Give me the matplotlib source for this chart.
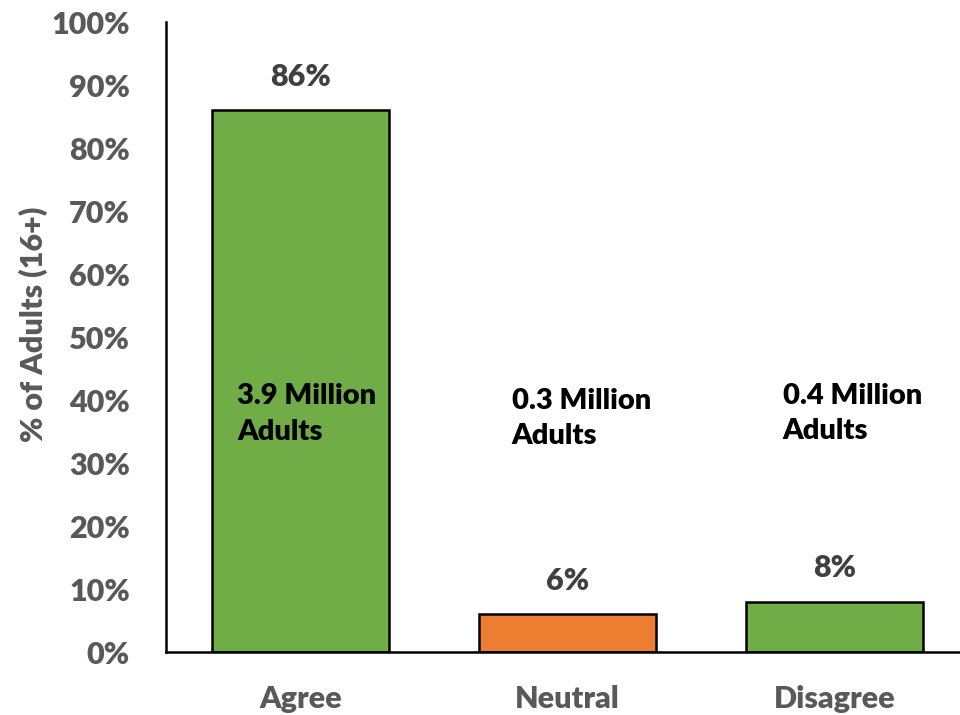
import matplotlib.pyplot as plt

categories = ['Agree', 'Neutral', 'Disagree']
percent = [86, 6, 8]
adult_notes = ['3.9 Million\nAdults', '0.3 Million\nAdults', '0.4 Million\nAdults']
bar_colors = ['#70AD47', '#ED7D31', '#70AD47']
yticks = [0, 10, 20, 30, 40, 50, 60, 70, 80, 90, 100]

plt.rcParams['font.family'] = ['Lato', 'DejaVu Sans']

fig = plt.figure(figsize=(9.6, 7.15), dpi=100)
ax = fig.add_axes([0.1729, 0.0881, 0.83, 0.881])

x = list(range(len(categories)))
ax.bar(x, percent, width=0.665, color=bar_colors, edgecolor='black', linewidth=1.8, zorder=2)

# value labels above bars
for xi, v in zip(x, percent):
    ax.text(xi, v + 5.3, '{}%'.format(v), ha='center', va='center',
            fontsize=22, fontweight='heavy', color='#404040')

# population notes
note_pos = [(-0.237, 37.8), (0.79, 37.1), (1.805, 37.9)]
for (nx, ny), note in zip(note_pos, adult_notes):
    ax.text(nx, ny, note, ha='left', va='center', fontsize=21,
            fontweight='heavy', color='black', linespacing=1.45)

ax.set_xlim(-0.504, 2.48)
ax.set_ylim(0, 100)
ax.set_yticks(yticks)
ax.set_yticklabels(['{}%'.format(t) for t in yticks])
ax.set_xticks(x)
ax.set_xticklabels(categories)
ax.tick_params(axis='both', length=0, labelsize=22, labelcolor='#595959')
ax.tick_params(axis='y', pad=26)
ax.tick_params(axis='x', pad=24)
for lab in ax.get_xticklabels() + ax.get_yticklabels():
    lab.set_fontweight('heavy')

ax.set_ylabel('% of Adults (16+)', fontsize=22, fontweight='heavy', color='#595959')
ax.yaxis.set_label_coords(-0.148, 0.52)

for s in ['top', 'right']:
    ax.spines[s].set_visible(False)
for s in ['left', 'bottom']:
    ax.spines[s].set_linewidth(1.8)
    ax.spines[s].set_color('black')

fig.savefig('out.png', dpi=100)
